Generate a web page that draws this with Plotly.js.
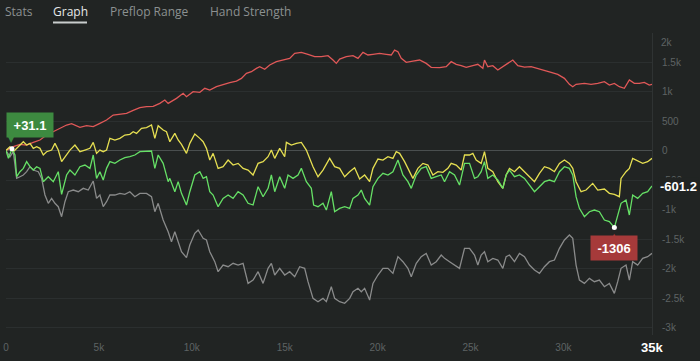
<!DOCTYPE html>
<html>
<head>
<meta charset="utf-8">
<script src="https://cdn.plot.ly/plotly-3.0.1.min.js"></script>
<style>
html,body{margin:0;padding:0;background:#212423;}
#chart{width:700px;height:361px;}
</style>
</head>
<body>
<div id="chart"></div>
<script>
// ---------------- DATA ----------------
const tabLabels = ["Stats", "Graph", "Preflop Range", "Hand Strength"];
const xTickVals = [0, 5000, 10000, 15000, 20000, 25000, 30000];
const xTickText = ["0", "5k", "10k", "15k", "20k", "25k", "30k"];
const yTickVals = [1500, 1000, 500, 0, -500, -1000, -1500, -2000, -2500, -3000];
const yTickText = ["1.5k", "1k", "500", "0", "-500", "-1k", "-1.5k", "-2k", "-2.5k", "-3k"];
const totalHandsLabel = "35k";

const redHands = [0,394,753,1111,1469,1828,2186,2545,2903,3262,3530,3978,4337,4695,5053,5412,5770,6129,6487,6845,7204,7562,7921,8279,8548,8727,
9175,9534,9713,10071,10430,10699,10967,11326,11684,12043,12401,12670,12939,13207,13476,13655,13924,14193,14551,14910,15268,15537,15895,16254,16612,16971,17329,17598,17777,17956,
18315,18674,18943,19211,19480,19749,20107,20466,20735,20914,21093,21272,21541,21899,22258,22616,22885,23333,23691,23960,24229,24498,24767,25125,25394,25663,25752,25931,26200,26469,26738,
27097,27276,27545,27903,28262,28620,28978,29337,29695,30054,30322,30502,30681,31129,31487,31846,32204,32473,32742,33010,33279,33548,33817,34086,34354,34623,34767];
const redValues = [0,65,105,93,138,178,263,319,364,432,455,393,421,404,460,517,602,613,630,681,726,743,749,799,856,799,
884,969,912,997,986,1054,1025,1082,1122,1150,1178,1223,1308,1336,1393,1421,1376,1449,1506,1534,1562,1647,1664,1630,1590,1590,1607,1534,1477,1551,
1590,1607,1562,1664,1619,1630,1647,1630,1619,1703,1675,1562,1494,1517,1534,1477,1410,1404,1421,1506,1461,1438,1410,1438,1461,1393,1534,1421,1438,1364,1421,
1506,1534,1438,1415,1421,1393,1364,1325,1291,1223,1122,1082,1122,1138,1122,1138,1167,1110,1138,1082,1054,1195,1138,1138,1155,1110,1122];

const yellowHands = [0,215,394,573,753,932,1111,1290,1469,1649,1828,2007,2186,2455,2634,2813,2993,3172,3441,3709,3978,4247,4516,4695,4874,5053,5233,5412,5591,5860,6129,6397,6666,6845,7025,7293,7562,7831,8010,8189,8458,8637,8817,
9086,9265,9444,9713,9892,10161,10430,10609,10788,10967,11147,11415,11684,11953,12222,12491,12759,13028,13297,13566,13835,14103,14282,14462,14731,14999,15089,15358,15627,15895,16164,16343,16523,16791,17060,17419,17687,17956,
18226,18495,18763,19032,19301,19570,19749,20018,20287,20555,20824,21003,21183,21451,21720,21899,22168,22437,22706,22975,23243,23512,23781,23960,24229,24498,24677,24946,25125,25304,25573,25752,25931,26200,26469,26738,26917,
27097,27366,27634,27903,28172,28441,28710,28978,29247,29516,29785,30054,30322,30502,30681,30950,31218,31577,31846,32204,32473,32742,33010,33100,33369,33548,33727,33996,34265,34533,34767];
const yellowValues = [0,65,-20,37,93,150,93,121,37,65,37,-76,-20,8,121,8,-189,-105,8,93,-20,8,37,138,-48,8,-20,8,206,178,206,263,274,319,291,376,387,432,206,421,347,319,150,
291,178,105,-48,121,280,206,150,37,-161,-48,-302,-274,-161,-246,-218,-302,-331,-415,-218,-189,-105,8,-133,37,-105,138,93,121,138,8,-133,-274,-444,-331,-133,-274,-302,
-444,-359,-291,-483,-415,-528,-302,-144,-161,-105,-133,-20,-48,-189,-359,-472,-302,-218,-246,-415,-359,-370,-302,-218,-246,-331,-76,-76,-48,-161,-218,-20,-302,-359,-528,-641,-415,
-302,-359,-274,-359,-444,-528,-387,-274,-302,-359,-218,-161,-218,-302,-528,-698,-670,-557,-670,-653,-726,-743,-783,-472,-359,-302,-133,-178,-218,-189,-133];

const greenHands = [0,130,320,484,573,753,932,1111,1290,1469,1649,1828,2007,2276,2545,2813,2993,3261,3441,3709,3978,4247,4516,4695,4874,5053,5233,5412,5591,5860,6129,6397,6666,6935,7204,7562,7831,8010,8189,8458,8727,
8817,9086,9265,9444,9713,9892,10161,10430,10609,10788,10967,11147,11415,11684,11953,12222,12491,12759,13028,13297,13566,13835,14103,14282,14462,14731,14999,15178,15447,15716,15895,16164,16433,16558,16791,17060,17240,17508,17687,17956,
18226,18495,18674,18943,19122,19301,19570,19749,20018,20287,20555,20824,21093,21362,21631,21810,22079,22347,22616,22885,23154,23423,23602,23871,24139,24408,24677,24946,25215,25394,25573,25752,25931,26200,26469,26738,26917,
27097,27366,27634,27903,28172,28441,28710,28978,29247,29516,29785,30054,30322,30502,30681,30860,31129,31398,31666,31935,32204,32473,32742,32921,33100,33369,33548,33727,33996,34265,34533,34767];
const greenValues = [0,-130,31.1,-76,-444,-359,-302,-189,-274,-331,-274,-302,-528,-444,-528,-359,-743,-415,-331,-415,-274,-246,-302,-76,-472,-359,-500,-302,-189,-218,-161,-121,-105,-76,-20,-8,-8,-302,-76,-218,-528,
-472,-698,-528,-726,-924,-698,-415,-359,-472,-444,-698,-754,-952,-811,-754,-811,-698,-754,-895,-924,-613,-783,-641,-415,-698,-444,-641,-415,-472,-415,-302,-528,-641,-924,-952,-895,-1009,-698,-1037,-980,
-952,-980,-811,-754,-670,-811,-924,-613,-472,-387,-415,-359,-161,-415,-528,-641,-415,-302,-274,-472,-444,-415,-528,-359,-415,-585,-218,-218,-472,-444,-359,-189,-472,-415,-500,-641,-415,
-331,-444,-415,-472,-585,-698,-613,-528,-500,-528,-359,-274,-302,-415,-783,-980,-1121,-1037,-1009,-1037,-1178,-1206,-1306,-1093,-895,-839,-1093,-754,-811,-726,-698,-601.2];

const grayHands = [0,215,394,573,753,932,1111,1290,1469,1738,1917,2097,2276,2455,2634,2813,2993,3172,3351,3620,3889,4157,4426,4695,4874,5053,5233,5412,5591,5860,6129,6397,6666,6935,7204,7562,7831,8010,8189,8458,8727,8906,
9086,9265,9444,9713,9892,10161,10340,10609,10788,10967,11236,11415,11684,11953,12222,12491,12759,13028,13297,13566,13835,14103,14282,14462,14731,14999,15268,15537,15805,16074,16254,16523,16791,17060,17240,17508,17687,17956,
18226,18495,18674,18943,19122,19301,19570,19749,20018,20287,20555,20824,21093,21362,21631,21810,22079,22347,22616,22885,23154,23423,23602,23871,24139,24408,24677,24946,25215,25394,25573,25752,25931,26200,26469,26738,26917,
27097,27366,27634,27903,28172,28441,28710,28978,29247,29516,29785,30054,30322,30502,30681,30860,31129,31398,31666,31935,32204,32473,32742,32921,33100,33369,33548,33727,33996,34265,34533,34767];
const grayValues = [0,-105,-20,-472,-444,-415,-359,-274,-331,-359,-472,-754,-895,-811,-895,-952,-1122,-867,-698,-670,-698,-641,-670,-517,-811,-754,-952,-867,-754,-754,-726,-743,-698,-783,-726,-726,-783,-1037,-895,-1178,-1376,-1545,
-1376,-1545,-1715,-1816,-1602,-1404,-1347,-1489,-1517,-1715,-1884,-2054,-1941,-1969,-1912,-1941,-1912,-2252,-2195,-2054,-2252,-1997,-1912,-2110,-1997,-2110,-2054,-2139,-1969,-1997,-2223,-2506,-2562,-2506,-2562,-2308,-2506,-2562,
-2590,-2506,-2393,-2336,-2393,-2336,-2534,-2252,-2110,-1997,-1997,-2082,-1799,-1884,-1997,-2139,-1912,-1799,-1743,-1941,-1884,-1771,-1828,-1884,-1941,-1997,-1658,-1658,-1771,-1941,-1771,-1715,-1884,-1828,-1856,-1997,-1799,
-1771,-1884,-1743,-1799,-1941,-2026,-2082,-1969,-1884,-1856,-1658,-1517,-1432,-1489,-1941,-2195,-2252,-2167,-2223,-2195,-2308,-2252,-2421,-2223,-1997,-1941,-2195,-1884,-1941,-1828,-1799,-1743];

// -------------- LAYOUT --------------
const W = 700, H = 361, L = 6, R = 48, T = 33, B = 26;
const PW = W - L - R, PH = H - T - B;
const px = x => (x - L) / PW;
const py = y => (H - B - y) / PH;

const BG = '#212423';
const lastIdx = greenHands.length - 1;
const lastH = greenHands[lastIdx], lastV = greenValues[lastIdx];
let maxI = 0, minI = 0;
greenValues.forEach((v, i) => { if (v > greenValues[maxI]) maxI = i; if (v < greenValues[minI]) minI = i; });
const maxH = greenHands[maxI], maxV = greenValues[maxI];
const minH = greenHands[minI], minV = greenValues[minI];

const lineW = 1.3;
const traces = [
  {x: grayHands, y: grayValues, mode: 'lines', line: {color: '#8a8b8b', width: lineW}},
  {x: redHands, y: redValues, mode: 'lines', line: {color: '#e05858', width: lineW}},
  {x: yellowHands, y: yellowValues, mode: 'lines', line: {color: '#e6df52', width: lineW}},
  {x: greenHands, y: greenValues, mode: 'lines', line: {color: '#66e066', width: lineW}},
  {x: [maxH, minH], y: [maxV, minV], mode: 'markers', marker: {color: '#ffffff', size: 5}, cliponaxis: false}
];

const numFont = '"Liberation Sans", Arial, sans-serif';
const tabFont = '"Open Sans", "Noto Sans", sans-serif';
const tabX = [5, 53, 110, 210];
const tabColors = ['#8c9191', '#e6e8e8', '#8c9191', '#8c9191'];

const annotations = [];
tabLabels.forEach((t, i) => annotations.push({
  xref: 'paper', yref: 'paper', x: px(tabX[i]), y: py(12), xanchor: 'left', yanchor: 'middle',
  text: t, showarrow: false, borderpad: 0, borderwidth: 0,
  font: {family: tabFont, size: 12, color: tabColors[i]}
}));
annotations.push(
  {xref: 'paper', yref: 'paper', x: 1, y: py(42), xanchor: 'left', yanchor: 'middle', xshift: 7,
   text: '2k', showarrow: false, font: {family: numFont, size: 10, color: '#5e6363'}},
  {xref: 'paper', yref: 'paper', x: 1, y: 0, xanchor: 'center', yanchor: 'top', yshift: -3,
   text: '<b>' + totalHandsLabel + '</b>', showarrow: false, font: {family: numFont, size: 13, color: '#ffffff'}},
  {xref: 'x', yref: 'y', x: lastH, y: lastV, xanchor: 'left', yanchor: 'middle', xshift: 6, yshift: -1,
   text: '<b>' + lastV.toFixed(1) + '</b>', showarrow: false, bgcolor: BG, borderpad: 1,
   font: {family: numFont, size: 13, color: '#ffffff'}},
  // max label
  {xref: 'x', yref: 'y', x: maxH, y: maxV, xanchor: 'left', yanchor: 'bottom', xshift: -6, yshift: 11,
   text: '<b>+' + maxV.toFixed(1) + '</b>', showarrow: false, bgcolor: '#3d8a40', borderpad: 3,
   width: 40, height: 18, font: {family: numFont, size: 13, color: '#ffffff'}},
  {xref: 'x', yref: 'y', x: maxH, y: maxV, xanchor: 'center', yanchor: 'bottom', yshift: 3,
   text: '▼', showarrow: false, font: {family: '"DejaVu Sans"', size: 8, color: '#3d8a40'}},
  // min label
  {xref: 'x', yref: 'y', x: minH, y: minV, xanchor: 'center', yanchor: 'top', yshift: -7,
   text: '<b>' + String(minV) + '</b>', showarrow: false, bgcolor: '#a63a3a', borderpad: 3,
   width: 40, height: 18, font: {family: numFont, size: 13, color: '#ffffff'}},
  {xref: 'x', yref: 'y', x: minH, y: minV, xanchor: 'center', yanchor: 'top', yshift: -2,
   text: '▲', showarrow: false, font: {family: '"DejaVu Sans"', size: 8, color: '#a63a3a'}}
);

const layout = {
  width: W, height: H,
  margin: {l: L, r: R, t: T, b: B, pad: 0},
  paper_bgcolor: BG, plot_bgcolor: BG,
  showlegend: false, hovermode: false,
  xaxis: {
    range: [0, lastH], tickmode: 'array', tickvals: xTickVals, ticktext: xTickText,
    showgrid: false, zeroline: false, showline: false, ticks: '', ticklabelstandoff: 5,
    tickfont: {family: numFont, size: 10, color: '#5e6363'}
  },
  yaxis: {
    side: 'right', range: [-3127, 1992], tickmode: 'array', tickvals: yTickVals, ticktext: yTickText,
    showgrid: true, gridcolor: '#2b2f2f', gridwidth: 1,
    zeroline: true, zerolinecolor: '#4a4f4f', zerolinewidth: 1,
    showline: true, linecolor: '#2f3333', linewidth: 1, ticks: '', ticklabelstandoff: 7,
    tickfont: {family: numFont, size: 10, color: '#5e6363'}
  },
  annotations: annotations,
  shapes: [
    {type: 'line', xref: 'paper', yref: 'paper', x0: px(53), x1: px(87), y0: py(22.5), y1: py(22.5),
     line: {color: '#c9cdcd', width: 2}}
  ]
};

Plotly.newPlot('chart', traces, layout, {displayModeBar: false, staticPlot: true});
</script>
</body>
</html>
